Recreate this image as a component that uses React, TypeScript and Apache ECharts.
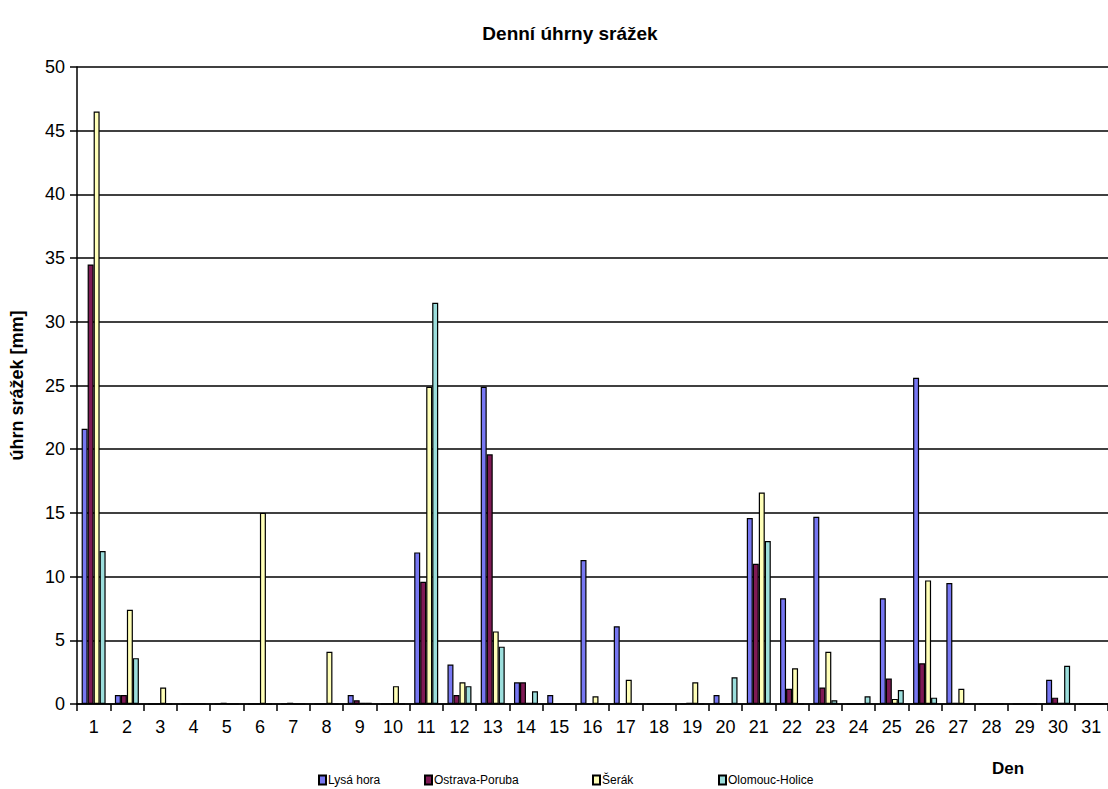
import React, { useEffect, useRef } from "react";
import * as echarts from "echarts";

const days = Array.from({ length: 31 }, (_, i) => String(i + 1));
const seriesNames = ["Lysá hora", "Ostrava-Poruba", "Šerák", "Olomouc-Holice"];
const lysaHora = [21.6, 0.7, 0, 0, 0, 0, 0, 0, 0.7, 0, 11.9, 3.1, 24.9, 1.7, 0.7, 11.3, 6.1, 0, 0, 0.7, 14.6, 8.3, 14.7, 0, 8.3, 25.6, 9.5, 0, 0, 1.9, 0];
const ostravaPoruba = [34.5, 0.7, 0, 0, 0.1, 0, 0.1, 0, 0.3, 0, 9.6, 0.7, 19.6, 1.7, 0, 0, 0, 0, 0.1, 0, 11.0, 1.2, 1.3, 0, 2.0, 3.2, 0.1, 0, 0, 0.5, 0];
const serak = [46.5, 7.4, 1.3, 0, 0, 15.0, 0, 4.1, 0.1, 1.4, 24.9, 1.7, 5.7, 0.1, 0, 0.6, 1.9, 0, 1.7, 0, 16.6, 2.8, 4.1, 0, 0.4, 9.7, 1.2, 0, 0, 0.1, 0];
const olomoucHolice = [12.0, 3.6, 0, 0, 0, 0, 0, 0, 0.1, 0, 31.5, 1.4, 4.5, 1.0, 0, 0, 0, 0, 0, 2.1, 12.8, 0, 0.3, 0.6, 1.1, 0.5, 0, 0, 0, 3.0, 0];
const colors = ["#7777F2", "#7F1A55", "#FFFFB8", "#9CDEDC"];
const legendLeft = [318, 424, 592, 718];

export default function App() {
  const ref = useRef<HTMLDivElement>(null);
  useEffect(() => {
    const chart = echarts.init(ref.current!, null, { renderer: "svg" });
    const values = [lysaHora, ostravaPoruba, serak, olomoucHolice];
    chart.setOption({
      animation: false,
      backgroundColor: "#fff",
      textStyle: { fontFamily: "Liberation Sans, Arial, sans-serif" },
      title: {
        text: "Denní úhrny srážek",
        left: 565,
        textAlign: "center",
        top: 19,
        textStyle: { fontSize: 19, fontWeight: "bold", color: "#000" },
      },
      legend: seriesNames.map((n, i) => ({
        data: [n],
        left: legendLeft[i],
        top: 774,
        itemWidth: 7,
        itemHeight: 9,
        itemGap: 2,
        icon: "rect",
        textStyle: { fontSize: 12, color: "#000", padding: [0, 0, 0, -3] },
        padding: 0,
      })),
      grid: { left: 77, top: 67, width: 1042, height: 637, containLabel: false },
      xAxis: {
        type: "category",
        data: days,
        name: "Den",
        nameLocation: "end",
        nameGap: 0,
        nameTextStyle: {
          fontSize: 17,
          fontWeight: "bold",
          color: "#000",
          align: "center",
          verticalAlign: "top",
          padding: [56, 0, 0, -200],
        },
        axisLine: { lineStyle: { color: "#000", width: 1.5 } },
        axisTick: { show: true, alignWithLabel: false, interval: 0, length: 7, lineStyle: { color: "#000", width: 1.5 } },
        axisLabel: { fontSize: 18, color: "#000", margin: 14, interval: 0 },
      },
      yAxis: {
        type: "value",
        min: 0,
        max: 50,
        interval: 5,
        name: "úhrn srážek [mm]",
        nameLocation: "middle",
        nameGap: 51,
        nameRotate: 90,
        nameTextStyle: { fontSize: 18, fontWeight: "bold", color: "#000" },
        axisLine: { show: true, lineStyle: { color: "#000", width: 1.5 } },
        axisTick: { show: true, length: 7, lineStyle: { color: "#000", width: 1.5 } },
        axisLabel: { fontSize: 18, color: "#000", margin: 12 },
        splitLine: { lineStyle: { color: "#000", width: 1.5 } },
      },
      series: seriesNames.map((n, i) => ({
        name: n,
        type: "bar",
        data: values[i],
        barWidth: 6,
        barGap: "0%",
        itemStyle: { color: colors[i], borderColor: "#000", borderWidth: 1.2 },
      })),
    });
    return () => chart.dispose();
  }, []);
  return <div ref={ref} style={{ width: 1108, height: 789, position: "absolute", left: 0, top: 0 }} />;
}
